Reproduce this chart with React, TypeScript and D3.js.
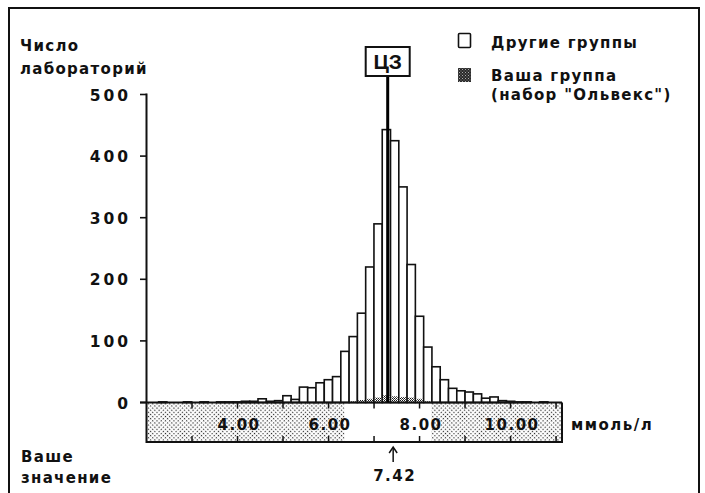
import React from "react";
import * as d3 from "d3";

// ---- data ----
const binStart = 2.084; // mmol/L, left edge of first bin
const binWidth = 0.182; // mmol/L
const otherCounts = [
  0, 1, 0, 0, 1, 0, 1, 0, 1, 1, 1, 2, 2, 6, 2, 3, 11, 5, 25, 24, 32, 37, 42, 83,
  107, 145, 220, 290, 443, 425, 350, 224, 140, 90, 58, 37, 23, 19, 17, 14, 7, 9,
  3, 2, 1, 1, 0, 1,
];
const yourStartBin = 24;
const yourCounts = [2, 4, 6, 8, 12, 10, 9, 8, 6, 2];
const yTicks = [0, 100, 200, 300, 400, 500];
const xMajorTicks = [4, 6, 8, 10];
const xMinorTicks = [3, 5, 7, 9, 11];
const targetValue = 7.3; // ЦЗ
const acceptRange = [6.35, 8.26];
const yourValue = 7.42;
const legendLabels = ["Другие группы", "Ваша группа", '(набор "Ольвекс")'];

const FONT = "'DejaVu Sans', sans-serif";

export default function App() {
  const x = d3.scaleLinear().domain([2, 11.13]).range([146.5, 562]);
  const y = d3.scaleLinear().domain([0, 500]).range([402.5, 94.5]);
  const bandTop = 402.5;
  const bandBottom = 442;

  const bars = otherCounts.map((c, i) => ({
    x0: x(binStart + i * binWidth),
    x1: x(binStart + (i + 1) * binWidth),
    c,
  }));
  const yours = yourCounts.map((c, j) => {
    const i = yourStartBin + j;
    return {
      x0: x(binStart + i * binWidth),
      x1: x(binStart + (i + 1) * binWidth),
      c,
    };
  });

  const txt = {
    fontFamily: FONT,
    fontWeight: 700 as const,
    fontSize: 15,
    fill: "#111",
  };

  const cx = x(targetValue);
  const ax = x(yourValue);

  return (
    <svg
      width={705}
      height={493}
      style={{ position: "absolute", left: 0, top: 0, background: "#fff" }}
    >
      <defs>
        <pattern id="stip" width="3" height="3" patternUnits="userSpaceOnUse" patternTransform="rotate(45)">
          <rect width="3" height="3" fill="#fff" />
          <rect x="0" y="0" width="1.2" height="1.2" fill="#222" />
        </pattern>
        <pattern id="stipDark" width="2" height="2" patternUnits="userSpaceOnUse">
          <rect width="2" height="2" fill="#fff" />
          <rect x="0" y="0" width="1" height="1" fill="#111" />
          <rect x="1" y="1" width="1" height="1" fill="#444" />
        </pattern>
        <pattern id="legDark" width="3" height="3" patternUnits="userSpaceOnUse">
          <rect width="3" height="3" fill="#2a2a2a" />
          <rect x="0" y="0" width="1" height="1" fill="#aaa" />
          <rect x="1.5" y="1.5" width="1" height="1" fill="#888" />
        </pattern>
      </defs>

      {/* frame */}
      <path d="M9,493 V8 H699 V493" fill="none" stroke="#111" strokeWidth={2} />

      {/* y title */}
      <text {...txt} x={20} y={51} letterSpacing={1.3}>Число</text>
      <text {...txt} x={20} y={74} letterSpacing={1.3}>лабораторий</text>

      {/* x band */}
      <rect x={x(2)} y={bandTop} width={x(11.13) - x(2)} height={bandBottom - bandTop} fill="url(#stip)" />
      <rect
        x={x(acceptRange[0])}
        y={bandTop}
        width={x(acceptRange[1]) - x(acceptRange[0])}
        height={bandBottom - bandTop}
        fill="#fff"
      />
      <path
        d={`M${x(2)},${bandTop} V${bandBottom} H${x(11.13)} V${bandTop}`}
        fill="none"
        stroke="#111"
        strokeWidth={2}
      />
      {[...xMajorTicks, ...xMinorTicks].map((v) => (
        <g key={"t" + v}>
          <line x1={x(v)} x2={x(v)} y1={bandTop} y2={bandTop + 6} stroke="#111" strokeWidth={1.5} />
          <line x1={x(v)} x2={x(v)} y1={bandBottom - 6} y2={bandBottom} stroke="#111" strokeWidth={1.5} />
        </g>
      ))}
      {xMajorTicks.map((v) => (
        <text key={"l" + v} {...txt} x={x(v) + 1.5} y={430} textAnchor="middle" letterSpacing={1.5}>
          {v.toFixed(2)}
        </text>
      ))}
      <text {...txt} x={571} y={430} letterSpacing={1.5}>ммоль/л</text>

      {/* bars: other groups */}
      {bars
        .filter((b) => b.c > 0)
        .map((b, i) => (
          <rect
            key={"b" + i}
            x={b.x0}
            y={y(b.c)}
            width={b.x1 - b.x0}
            height={y(0) - y(b.c)}
            fill="#fff"
            stroke="#111"
            strokeWidth={1.6}
          />
        ))}
      {/* bars: your group */}
      {yours.map((b, i) => (
        <rect
          key={"y" + i}
          x={b.x0 + 1}
          y={y(b.c)}
          width={b.x1 - b.x0 - 2}
          height={y(0) - y(b.c)}
          fill="url(#stipDark)"
        />
      ))}

      {/* y axis */}
      <line x1={146.5} x2={146.5} y1={y(500) - 1} y2={y(0)} stroke="#111" strokeWidth={2} />
      {yTicks.map((v) => (
        <g key={"yt" + v}>
          <line x1={140} x2={146.5} y1={y(v)} y2={y(v)} stroke="#111" strokeWidth={1.6} />
          <text {...txt} fontSize={15.5} x={131} y={y(v) + 6} textAnchor="end" letterSpacing={3}>
            {v}
          </text>
        </g>
      ))}
      {/* baseline */}
      <line x1={140} x2={x(11.13)} y1={y(0)} y2={y(0)} stroke="#111" strokeWidth={2} />

      {/* target line & label */}
      <line x1={cx} x2={cx} y1={76} y2={y(0)} stroke="#000" strokeWidth={3} />
      <rect x={cx - 22} y={47} width={44} height={29} fill="#fff" stroke="#111" strokeWidth={2} />
      <text {...txt} fontFamily="'Liberation Sans', Arial, sans-serif" fontSize={21} x={cx} y={69} textAnchor="middle">
        ЦЗ
      </text>

      {/* legend */}
      <rect x={458.5} y={33.5} width={12} height={14} fill="#fff" stroke="#111" strokeWidth={1.6} rx={1} />
      <text {...txt} x={491} y={48} letterSpacing={1.3}>{legendLabels[0]}</text>
      <rect x={458} y={68} width={13} height={14} fill="url(#legDark)" />
      <text {...txt} x={491} y={81} letterSpacing={1.3}>{legendLabels[1]}</text>
      <text {...txt} x={491} y={100} letterSpacing={1.3}>{legendLabels[2]}</text>

      {/* your value */}
      <line x1={ax} x2={ax} y1={448} y2={462} stroke="#111" strokeWidth={1.5} />
      <path d={`M${ax - 4},${453} L${ax},${447} L${ax + 4},${453}`} fill="none" stroke="#111" strokeWidth={1.5} />
      <text {...txt} x={ax + 1.5} y={481} textAnchor="middle" letterSpacing={1.5}>
        {yourValue.toFixed(2)}
      </text>
      <text {...txt} x={21} y={462} letterSpacing={1.3}>Ваше</text>
      <text {...txt} x={21} y={483} letterSpacing={1.3}>значение</text>
    </svg>
  );
}
